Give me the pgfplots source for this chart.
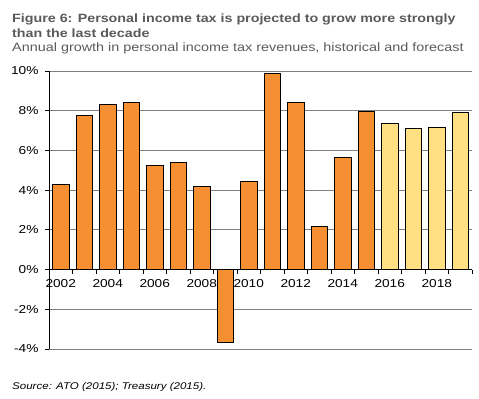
\documentclass[border=0pt]{standalone}
\usepackage{pgfplots}
\pgfplotsset{compat=1.18}
\usepackage{fontspec}
\setmainfont{Liberation Sans}[FakeStretch=1.19]
\definecolor{barorange}{RGB}{246,142,50}
\definecolor{baryellow}{RGB}{255,224,130}
\definecolor{titlegray}{RGB}{90,90,92}
\definecolor{gridgray}{RGB}{128,128,128}
\begin{document}
\begin{tikzpicture}
\path[use as bounding box] (0,0) rectangle (479bp,-399bp);
\node[anchor=base west,inner sep=0pt,text=titlegray,font=\fontsize{12bp}{14bp}\selectfont\bfseries] at (12bp,-22bp) {Figure 6: Personal income tax is projected to grow more strongly};
\node[anchor=base west,inner sep=0pt,text=titlegray,font=\fontsize{12bp}{14bp}\selectfont\bfseries] at (12bp,-37.3bp) {than the last decade};
\node[anchor=base west,inner sep=0pt,text=titlegray,font=\fontsize{12.1bp}{14bp}\selectfont] at (12bp,-51.5bp) {Annual growth in personal income tax revenues, historical and forecast};
\node[anchor=base west,inner sep=0pt,text=black,font=\fontsize{9.7bp}{12bp}\selectfont\itshape] at (12bp,-389bp) {Source: ATO (2015); Treasury (2015).};
\begin{axis}[
  at={(49bp,-349bp)}, anchor=south west,
  scale only axis, width=423bp, height=278bp,
  xmin=-0.5, xmax=17.5, ymin=-4, ymax=10,
  axis x line=middle, axis y line=left,
  axis line style={black, line width=0.9bp, -},
  xtick={0,2,4,6,8,10,12,14,16},
  xticklabels={2002,2004,2006,2008,2010,2012,2014,2016,2018},
  minor xtick={-0.5,0.5,...,17.5},
  major x tick style={draw=none},
  minor x tick style={black, line width=0.8bp},
  minor tick length=4bp,
  xtick align=outside,
  ytick={-4,-2,0,2,4,6,8,10},
  yticklabels={-4\%,-2\%,0\%,2\%,4\%,6\%,8\%,10\%},
  ytick align=outside,
  major tick length=4bp,
  y tick style={black, line width=0.8bp},
  ymajorgrids, grid style={gridgray, line width=0.9bp},
  tick label style={font=\fontsize{11.5bp}{13bp}\selectfont, text=black},
  xticklabel style={yshift=-2bp},
  yticklabel style={xshift=-3bp},
  ybar, bar width=16.5bp,
  clip=false,
]
\addplot[bar shift=0pt, fill=barorange, draw=black, line width=0.8bp] coordinates {
(0,4.30) (1,7.77) (2,8.33) (3,8.43) (4,5.26) (5,5.41) (6,4.20) (7,-3.68)
(8,4.46) (9,9.88) (10,8.43) (11,2.15) (12,5.66) (13,7.97)};
\addplot[bar shift=0pt, fill=baryellow, draw=black, line width=0.8bp] coordinates {
(14,7.37) (15,7.12) (16,7.17) (17,7.92)};
\end{axis}
\end{tikzpicture}
\end{document}
